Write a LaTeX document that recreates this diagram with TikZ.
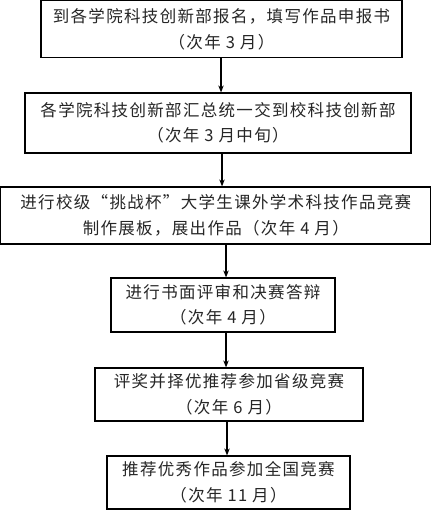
\documentclass[tikz,border=0pt]{standalone}
\usepackage{fontspec}
\newfontfamily\cjk[LetterSpace=8]{Noto Sans CJK SC}
\usetikzlibrary{arrows.meta}
\begin{document}
\begin{tikzpicture}[x=1pt,y=-1pt,
  box/.style={draw=black, line width=1.2pt, fill=white, inner sep=0pt, align=center,
    font=\cjk\fontsize{16.5}{25.5}\selectfont, text=black!85},
  arr/.style={line width=1.2pt, -{Stealth[length=7pt,width=5.5pt]}}]
\useasboundingbox (0,0) rectangle (432,511);
\node[box, minimum width=361pt, minimum height=57pt] (b1) at (221.5,29.3)
  {到各学院科技创新部报名，填写作品申报书\\（次年 3 月）};
\node[box, minimum width=386pt, minimum height=60pt] (b2) at (218,123)
  {各学院科技创新部汇总统一交到校科技创新部\\（次年 3 月中旬）};
\node[box, minimum width=430pt, minimum height=57pt] (b3) at (215.8,215.5)
  {进行校级“挑战杯”大学生课外学术科技作品竞赛\\制作展板，展出作品（次年 4 月）};
\node[box, minimum width=224pt, minimum height=54pt] (b4) at (223,305)
  {进行书面评审和决赛答辩\\（次年 4 月）};
\node[box, minimum width=268pt, minimum height=53pt] (b5) at (229,394.5)
  {评奖并择优推荐参加省级竞赛\\（次年 6 月）};
\node[box, minimum width=243pt, minimum height=53pt] (b6) at (228.5,482.5)
  {推荐优秀作品参加全国竞赛\\（次年 11 月）};
\draw[arr] (b1.south -| 221,0) -- (b2.north -| 221,0);
\draw[arr] (b2.south -| 222,0) -- (b3.north -| 222,0);
\draw[arr] (b3.south -| 226,0) -- (b4.north -| 226,0);
\draw[arr] (b4.south -| 226,0) -- (b5.north -| 226,0);
\draw[arr] (b5.south -| 227,0) -- (b6.north -| 227,0);
\end{tikzpicture}
\end{document}
